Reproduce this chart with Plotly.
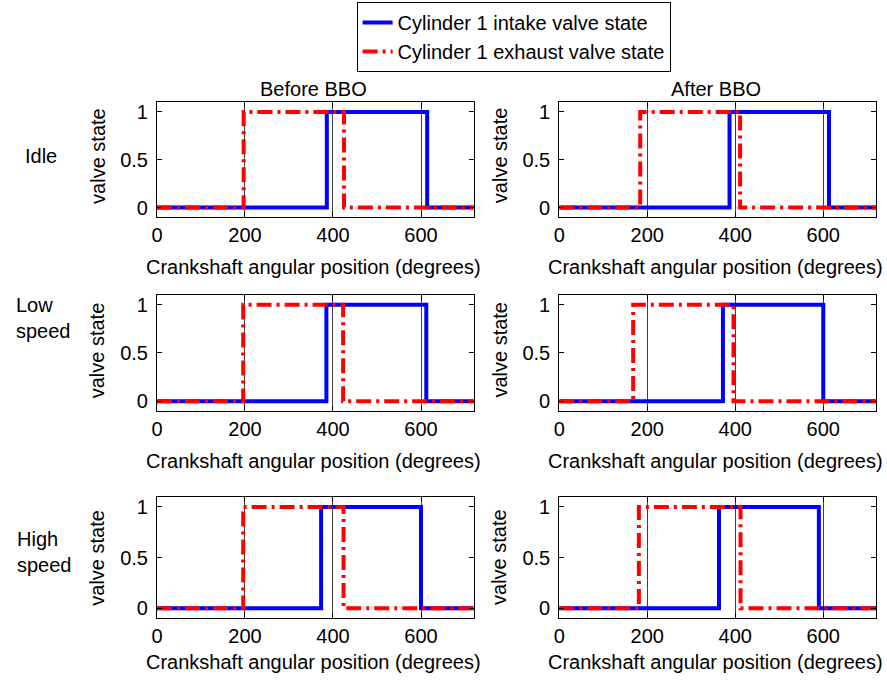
import plotly.graph_objects as go

# Valve timing (crank angle in degrees) for cylinder 1, per operating condition
conditions = ["Idle", "Low<br>speed", "High<br>speed"]
column_titles = ["Before BBO", "After BBO"]

intake_open_before = [386, 385, 373]
intake_close_before = [614, 612, 600]
exhaust_open_before = [197, 196, 196]
exhaust_close_before = [425, 423, 424]

intake_open_after = [387, 372, 363]
intake_close_after = [613, 600, 590]
exhaust_open_after = [184, 168, 181]
exhaust_close_after = [411, 396, 412]

cycle_end = 720
x_ticks = [0, 200, 400, 600]
y_ticks = [0, 0.5, 1]
y_tick_text = ["0", "0.5", "1"]

FONT = "Arial, Liberation Sans, sans-serif"
W, H = 887, 680

# subplot frames in pixels
col_px = [(152, 471), (557, 876)]
row_px = [(101.7, 216.7), (295, 411), (497.3, 619.3)]


def px_x(v):
    return v / W


def px_y(v):
    return 1 - v / H


def step(open_a, close_a):
    return [0, open_a, close_a, cycle_end], [0, 1, 0, 0]


fig = go.Figure()
timings = [
    (intake_open_before, intake_close_before, exhaust_open_before, exhaust_close_before),
    (intake_open_after, intake_close_after, exhaust_open_after, exhaust_close_after),
]

layout_axes = {}
idx = 0
for r in range(3):
    for c in range(2):
        idx += 1
        io, ic, eo, ec = timings[c]
        xa = "x" if idx == 1 else f"x{idx}"
        ya = "y" if idx == 1 else f"y{idx}"
        xi, yi = step(io[r], ic[r])
        fig.add_trace(go.Scatter(
            x=xi, y=yi, mode="lines", line_shape="hv",
            line=dict(color="#0000FF", width=4),
            name="Cylinder 1 intake valve state",
            showlegend=(idx == 1), xaxis=xa, yaxis=ya))
        xe, ye = step(eo[r], ec[r])
        fig.add_trace(go.Scatter(
            x=xe, y=ye, mode="lines", line_shape="hv",
            line=dict(color="#FF0000", width=4, dash="15px,5px,3px,5px"),
            name="Cylinder 1 exhaust valve state",
            showlegend=(idx == 1), xaxis=xa, yaxis=ya))

        x0, x1 = col_px[c]
        y0, y1 = row_px[r]
        common = dict(showline=True, linecolor="black", linewidth=1,
                      mirror="ticks", ticks="inside", ticklen=5,
                      tickcolor="black", zeroline=False,
                      tickfont=dict(family=FONT, size=20, color="black"))
        layout_axes["xaxis" if idx == 1 else f"xaxis{idx}"] = dict(
            domain=[px_x(x0), px_x(x1)], range=[0, cycle_end],
            tickvals=x_ticks, showgrid=True, gridcolor="#404040",
            gridwidth=1, anchor=ya, ticklabelstandoff=0, **common)
        layout_axes["yaxis" if idx == 1 else f"yaxis{idx}"] = dict(
            domain=[px_y(y1), px_y(y0)], range=[-0.1, 1.1],
            tickvals=y_ticks, ticktext=y_tick_text, showgrid=False,
            anchor=xa, ticklabelstandoff=4, **common)

fig.update_layout(**layout_axes)

ann = []
title_font = dict(family=FONT, size=20, color="black")
# column titles
for c, t in enumerate(column_titles):
    cx = (col_px[c][0] + col_px[c][1]) / 2 - 2
    ann.append(dict(text=t, x=px_x(cx), y=px_y(88), xref="paper", yref="paper",
                    xanchor="center", yanchor="middle", showarrow=False, font=title_font))
# x-axis titles
xtitle_y = [267, 461, 663]
for r in range(3):
    for c in range(2):
        cx = (col_px[c][0] + col_px[c][1]) / 2 - 2
        ann.append(dict(text="Crankshaft angular position (degrees)",
                        x=px_x(cx), y=px_y(xtitle_y[r]), xref="paper", yref="paper",
                        xanchor="center", yanchor="middle", showarrow=False, font=title_font))
# y-axis titles
ytitle_y = [155, 350, 558]
ytitle_x = [92, 497]
for r in range(3):
    for c in range(2):
        ann.append(dict(text="valve state", textangle=-90,
                        x=px_x(ytitle_x[c]), y=px_y(ytitle_y[r]), xref="paper", yref="paper",
                        xanchor="center", yanchor="middle", showarrow=False, font=title_font))
# operating-condition labels
row_label_y = [155, 318, 553]
row_label_x = [17, 8, 9]
for r, lab in enumerate(conditions):
    ann.append(dict(text=lab, x=px_x(row_label_x[r]), y=px_y(row_label_y[r]),
                    xref="paper", yref="paper", xanchor="left", yanchor="middle",
                    align="left", showarrow=False, font=title_font))

fig.update_layout(
    width=W, height=H,
    margin=dict(l=0, r=0, t=0, b=0),
    paper_bgcolor="white", plot_bgcolor="white",
    font=dict(family=FONT, size=20, color="black"),
    annotations=ann,
    legend=dict(x=px_x(353), y=px_y(1), xanchor="left", yanchor="top",
                bordercolor="black", borderwidth=1, bgcolor="white",
                font=dict(family=FONT, size=20, color="black"),
                tracegroupgap=0, itemwidth=30),
)

fig.write_html("out.html")
